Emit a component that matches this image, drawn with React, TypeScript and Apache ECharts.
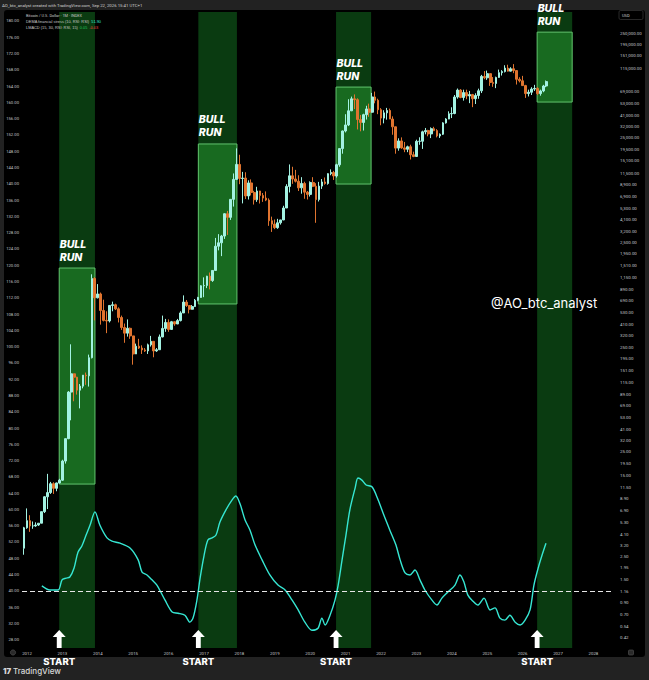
import React, { useEffect, useRef } from 'react';
import * as echarts from 'echarts';

// ---------- texts ----------
const chartTitle = 'AO_btc_analyst created with TradingView.com, Sep 22, 2026 15:41 UTC+1';
const symbolLine = 'Bitcoin / U.S. Dollar · 1M · INDEX';
const oscName = 'DEMA financial stress (10, RSI: RSI)';
const oscLast = '51.90';
const macdName = 'LMACD (15, 30, RSI: RSI, 15)';
const macdA = '0.05';
const macdB = '-0.03';
const watermark = '@AO_btc_analyst';

// ---------- monthly candles [open, high, low, close], first = Dec 2011 ----------
const firstCandleYear = 2011 + 11 / 12;
const ohlc2011 = [[3.0, 4.8, 2.6, 4.7]];
const ohlc2012 = [
  [4.7, 7.2, 4.6, 5.5], [5.5, 6.2, 4.3, 4.9], [4.9, 5.4, 4.6, 4.9], [4.9, 5.3, 4.8, 5.0],
  [5.0, 5.2, 4.9, 5.2], [5.2, 6.7, 5.2, 6.7], [6.7, 9.4, 6.5, 9.3], [9.3, 15.4, 7.1, 10.2],
  [10.2, 12.9, 9.9, 12.4], [12.4, 12.8, 9.9, 11.2], [11.2, 12.7, 10.5, 12.6], [12.6, 13.8, 12.5, 13.4],
];
const ohlc2013 = [
  [13.4, 21, 13.2, 20.4], [20.4, 33.5, 19.3, 33.4], [33.4, 95, 33, 93], [93, 266, 50, 139],
  [139, 140, 76, 129], [129, 130, 88, 97], [97, 111, 65, 106], [106, 135, 101, 135],
  [135, 143, 109, 133], [133, 212, 105, 198], [198, 1240, 195, 1130], [1130, 1165, 450, 740],
];
const ohlc2014 = [
  [740, 1000, 730, 805], [805, 830, 410, 560], [560, 710, 440, 450], [450, 550, 340, 445],
  [445, 630, 430, 625], [625, 680, 550, 635], [635, 650, 565, 580], [580, 600, 430, 480],
  [480, 500, 365, 385], [385, 420, 275, 340], [340, 460, 315, 378], [378, 385, 300, 320],
];
const ohlc2015 = [
  [320, 320, 170, 215], [215, 270, 215, 255], [255, 300, 240, 245], [245, 260, 215, 235],
  [235, 245, 225, 230], [230, 270, 215, 263], [263, 320, 253, 284], [284, 285, 200, 230],
  [230, 245, 225, 236], [236, 330, 235, 313], [313, 500, 310, 377], [377, 465, 350, 430],
];
const ohlc2016 = [
  [430, 460, 350, 369], [369, 445, 365, 437], [437, 440, 400, 416], [416, 465, 415, 448],
  [448, 550, 440, 530], [530, 780, 530, 673], [673, 705, 605, 624], [624, 625, 525, 575],
  [575, 630, 570, 610], [610, 720, 605, 700], [700, 755, 685, 745], [745, 975, 740, 963],
];
const ohlc2017 = [
  [963, 1160, 750, 970], [970, 1200, 915, 1190], [1190, 1290, 890, 1080], [1080, 1350, 1050, 1350],
  [1350, 2760, 1350, 2300], [2300, 3000, 2100, 2480], [2480, 2950, 1850, 2875], [2875, 4750, 2700, 4700],
  [4700, 5000, 2950, 4340], [4340, 6470, 4100, 6450], [6450, 11400, 5500, 10000], [10000, 19800, 10000, 13900],
];
const ohlc2018 = [
  [13900, 17200, 9000, 10200], [10200, 11800, 5900, 10300], [10300, 11700, 6500, 6950], [6950, 9800, 6430, 9250],
  [9250, 10000, 7030, 7500], [7500, 7780, 5750, 6400], [6400, 8500, 6100, 7750], [7750, 7780, 5880, 7030],
  [7030, 7410, 6100, 6630], [6630, 7680, 6200, 6350], [6350, 6590, 3600, 4030], [4030, 4410, 3150, 3740],
];
const ohlc2019 = [
  [3740, 4140, 3350, 3460], [3460, 4200, 3370, 3850], [3850, 4110, 3700, 4100], [4100, 5600, 4080, 5330],
  [5330, 9000, 5330, 8570], [8570, 13900, 7500, 10820], [10820, 13200, 9070, 10090], [10090, 12330, 9350, 9600],
  [9600, 10950, 7750, 8300], [8300, 10500, 7300, 9150], [9150, 9500, 6530, 7550], [7550, 7750, 6430, 7190],
];
const ohlc2020 = [
  [7190, 9580, 6860, 9350], [9350, 10500, 8450, 8600], [8600, 9200, 3850, 6420], [6420, 9470, 6150, 8630],
  [8630, 10080, 8110, 9450], [9450, 10430, 8900, 9140], [9140, 11450, 8900, 11350], [11350, 12470, 10950, 11650],
  [11650, 12070, 9880, 10780], [10780, 14100, 10400, 13800], [13800, 19500, 13200, 19700], [19700, 29300, 17600, 29000],
];
const ohlc2021 = [
  [29000, 41950, 28100, 33100], [33100, 58350, 32300, 45200], [45200, 61800, 44950, 58800], [58800, 64850, 47000, 57700],
  [57700, 59500, 30000, 37300], [37300, 41300, 28800, 35000], [35000, 42400, 29300, 41500], [41500, 50500, 37300, 47100],
  [47100, 52900, 39600, 43800], [43800, 67000, 43300, 61300], [61300, 69000, 53300, 57000], [57000, 59000, 42000, 46300],
];
const ohlc2022 = [
  [46300, 47900, 32900, 38500], [38500, 45800, 34300, 43200], [43200, 48200, 37200, 45500], [45500, 47400, 37700, 37700],
  [37700, 40000, 26700, 31800], [31800, 31900, 17600, 19900], [19900, 24700, 18800, 23300], [23300, 25200, 19600, 20000],
  [20000, 22800, 18200, 19400], [19400, 21000, 18200, 20500], [20500, 21450, 15500, 17200], [17200, 18400, 16300, 16550],
];
const ohlc2023 = [
  [16550, 23950, 16500, 23100], [23100, 25250, 21400, 23150], [23150, 29200, 19550, 28500], [28500, 31000, 26950, 29250],
  [29250, 29800, 25800, 27200], [27200, 31400, 24800, 30500], [30500, 31800, 28900, 29250], [29250, 30200, 25200, 26000],
  [26000, 27500, 24900, 27000], [27000, 35200, 26550, 34650], [34650, 38450, 34100, 37700], [37700, 44700, 37600, 42300],
];
const ohlc2024 = [
  [42300, 48900, 38550, 42600], [42600, 64000, 41900, 61200], [61200, 73800, 59000, 71300], [71300, 72800, 59600, 60600],
  [60600, 71950, 56550, 67500], [67500, 71950, 58400, 62700], [62700, 70000, 53500, 64600], [64600, 65600, 49000, 59000],
  [59000, 66500, 52500, 63300], [63300, 73600, 58900, 70200], [70200, 99600, 66800, 96400], [96400, 108300, 90500, 93400],
];
const ohlc2025 = [
  [93400, 109500, 89200, 102400], [102400, 102800, 78200, 84300], [84300, 95000, 76600, 82500], [82500, 95800, 74400, 94200],
  [94200, 111900, 93400, 104600], [104600, 110500, 98200, 107100], [107100, 123200, 105100, 115700], [115700, 124500, 107300, 108200],
  [108200, 117900, 107300, 114000], [114000, 126200, 103500, 109500], [109500, 110600, 80600, 90400], [90400, 94600, 84400, 87500],
];
const ohlc2026 = [
  [87500, 97500, 80000, 78700], [78700, 80000, 60000, 66000], [66000, 72000, 62000, 68000], [68000, 76000, 64000, 73000],
  [73000, 80000, 70000, 74000], [74000, 76000, 64000, 66000], [66000, 72000, 63000, 70000], [70000, 80000, 68000, 78000],
  [78000, 88000, 76000, 85926.56],
];

// ---------- oscillator (left scale) ----------
const oscYears = [
  2012.42, 2012.65, 2012.88, 2012.99, 2013.10, 2013.21, 2013.33, 2013.44, 2013.55, 2013.67, 2013.78, 2013.92,
  2014.06, 2014.26, 2014.40, 2014.63, 2014.91, 2015.14, 2015.25, 2015.39, 2015.53, 2015.67, 2015.90,
  2016.10, 2016.27, 2016.46, 2016.60, 2016.69, 2016.80, 2016.89, 2017.00, 2017.11, 2017.23, 2017.34, 2017.45,
  2017.62, 2017.79, 2017.90, 2018.02, 2018.16, 2018.30, 2018.44, 2018.64, 2018.86, 2019.09, 2019.29, 2019.49,
  2019.66, 2019.85, 2020.05, 2020.22, 2020.33, 2020.42, 2020.56, 2020.70, 2020.79, 2020.90, 2021.01, 2021.12,
  2021.27, 2021.35, 2021.46, 2021.58, 2021.75, 2021.92, 2022.08, 2022.25, 2022.42, 2022.54, 2022.68, 2022.82,
  2022.96, 2023.10, 2023.24, 2023.44, 2023.58, 2023.72, 2023.89, 2024.09, 2024.23, 2024.34, 2024.45, 2024.57,
  2024.74, 2024.91, 2025.08, 2025.22, 2025.36, 2025.50, 2025.64, 2025.79, 2025.93, 2026.07, 2026.21, 2026.32,
  2026.44, 2026.55, 2026.66,
];
const oscValues = [
  41.2, 40.2, 40.2, 42.7, 43.1, 43.4, 45.6, 49.5, 51.0, 53.7, 56.1, 59.4,
  56.1, 53.0, 52.2, 51.7, 50.5, 47.6, 44.6, 43.9, 42.7, 41.4, 37.7,
  34.8, 34.5, 34.0, 32.3, 33.3, 37.7, 43.1, 48.6, 52.5, 53.0, 53.7, 56.9,
  59.9, 62.3, 63.3, 61.3, 57.4, 54.9, 51.3, 47.6, 43.9, 41.4, 40.2, 37.7,
  35.3, 32.3, 30.3, 30.8, 33.3, 31.6, 34.0, 37.7, 41.4, 47.6, 53.7, 59.9,
  65.3, 67.7, 67.2, 66.0, 65.5, 62.3, 58.6, 54.9, 51.3, 47.6, 44.4, 43.9,
  45.1, 42.7, 40.2, 37.7, 36.5, 38.2, 39.7, 41.4, 43.9, 42.2, 39.0, 37.7,
  36.5, 38.2, 35.3, 35.8, 33.3, 32.8, 34.0, 32.3, 31.6, 32.8, 35.3, 41.4,
  45.6, 48.8, 51.7,
];
const oscThreshold = 40;

// ---------- bull runs ----------
const bullStart = [2012.91, 2016.84, 2020.73, 2026.41];
const bullEnd = [2013.92, 2017.93, 2021.72, 2027.40];
const bullLow = [12.3, 646, 9030, 54800];
const bullHigh = [1424, 21800, 76200, 255000];
const startLevel = 28.15;

// ---------- axis ticks ----------
const yearTicks = [2012, 2013, 2014, 2015, 2016, 2017, 2018, 2019, 2020, 2021, 2022, 2023, 2024, 2025, 2026, 2027, 2028];
const leftTicks = [28, 32, 36, 40, 44, 48, 52, 56, 60, 64, 68, 72, 76, 80, 84, 88, 92, 96, 100, 104, 108, 112, 116, 120,
  124, 128, 132, 136, 140, 144, 148, 152, 156, 160, 164, 168, 172, 176, 180];
const priceTicks = [0.42, 0.54, 0.7, 0.9, 1.16, 1.5, 1.95, 2.5, 3.2, 4.1, 5.3, 6.9, 8.9, 11.5, 15, 19.5, 25, 32, 41, 53,
  69, 89, 115, 151, 195, 250, 320, 410, 530, 690, 890, 1150, 1510, 1950, 2500, 3200, 4100, 5300, 6900, 8900, 11500,
  15100, 19500, 25000, 32000, 41000, 53000, 69000, 115000, 151000, 195000, 250000];

// axis ranges
const X_MIN = 2011.859;
const X_MAX = 2028.525;
const LEFT_MIN = 25.95;
const LEFT_MAX = 182.21;
const LOG_MIN = -0.476;
const LOG_MAX = 5.599;

const fmt2 = (v: number) => v.toLocaleString('en-US', { minimumFractionDigits: 2, maximumFractionDigits: 2 });

const UP = '#a3f2e2';
const DOWN = '#e0742f';
const CYAN = '#36e7d3';
const BAND = '#0a3b11';
const BOX = '#186a20';
const BOX_BORDER = '#62c46e';
const AXIS_TXT = '#c5c7cc';
const FONT = 'Roboto, "Noto Sans", sans-serif';
const BOLD_FONT = 'Inter, "Open Sans", sans-serif';

export default function App() {
  const ref = useRef<HTMLDivElement>(null);

  useEffect(() => {
    if (!ref.current) return;
    const chart = echarts.init(ref.current, undefined, { renderer: 'svg' });

    const candles = [
      ...ohlc2011, ...ohlc2012, ...ohlc2013, ...ohlc2014, ...ohlc2015, ...ohlc2016, ...ohlc2017, ...ohlc2018,
      ...ohlc2019, ...ohlc2020, ...ohlc2021, ...ohlc2022, ...ohlc2023, ...ohlc2024, ...ohlc2025, ...ohlc2026,
    ];
    const candleData = candles.map((r, i) => [
      firstCandleYear + i / 12,
      Math.log10(r[0]),
      Math.log10(r[3]),
      Math.log10(r[2]),
      Math.log10(r[1]),
    ]);
    const lastClose = candles[candles.length - 1][3];
    const logTicks = priceTicks.map((p) => Math.log10(p));

    const areaData: any[] = [];
    bullStart.forEach((s, i) => {
      areaData.push([
        { xAxis: s, itemStyle: { color: BAND, borderWidth: 0 }, label: { show: false } },
        { xAxis: bullEnd[i] },
      ]);
    });
    bullStart.forEach((s, i) => {
      areaData.push([
        {
          xAxis: s,
          yAxis: Math.log10(bullLow[i]),
          itemStyle: { color: BOX, borderColor: BOX_BORDER, borderWidth: 1 },
          label: {
            show: true,
            position: [1, -30],
            formatter: 'BULL\nRUN',
            color: '#ffffff',
            fontSize: 10.5,
            lineHeight: 13,
            fontWeight: 800,
            fontStyle: 'italic',
            fontFamily: BOLD_FONT,
            align: 'left',
          },
        },
        { xAxis: bullEnd[i], yAxis: Math.log10(bullHigh[i]) },
      ]);
    });

    const option: any = {
      animation: false,
      backgroundColor: 'transparent',
      textStyle: { fontFamily: FONT },
      grid: { left: 22, right: 37, top: 12, bottom: 32, containLabel: false, outerBoundsMode: 'none' },
      xAxis: {
        type: 'value',
        min: X_MIN,
        max: X_MAX,
        axisLine: { show: false },
        axisTick: { show: false },
        splitLine: { show: false },
        axisLabel: {
          customValues: yearTicks,
          formatter: (v: number) => String(Math.round(v)),
          color: AXIS_TXT,
          fontSize: 4.3,
          lineHeight: 5,
          margin: 3,
        },
      },
      yAxis: [
        {
          type: 'value',
          position: 'left',
          min: LEFT_MIN,
          max: LEFT_MAX,
          axisLine: { show: false },
          axisTick: { show: false },
          splitLine: { show: false },
          axisLabel: {
            customValues: leftTicks,
            formatter: (v: number) => v.toFixed(2),
            color: AXIS_TXT,
            fontSize: 4.2,
            margin: 3,
          },
        },
        {
          type: 'value',
          position: 'right',
          min: LOG_MIN,
          max: LOG_MAX,
          axisLine: { show: false },
          axisTick: { show: false },
          splitLine: { show: false },
          axisLabel: {
            customValues: logTicks,
            formatter: (v: number) => {
              let best = 0;
              logTicks.forEach((t, i) => {
                if (Math.abs(t - v) < Math.abs(logTicks[best] - v)) best = i;
              });
              return fmt2(priceTicks[best]);
            },
            color: AXIS_TXT,
            fontSize: 4.4,
            margin: 8,
          },
        },
      ],
      series: [
        {
          type: 'candlestick',
          name: 'BTC',
          xAxisIndex: 0,
          yAxisIndex: 1,
          clip: false,
          barWidth: 2.2,
          data: candleData,
          encode: { x: 0, y: [1, 2, 3, 4] },
          itemStyle: { color: UP, color0: DOWN, borderColor: UP, borderColor0: DOWN, borderWidth: 1 },
          markArea: { silent: true, z: 1, data: areaData },
          markLine: {
            silent: true,
            symbol: ['none', 'none'],
            lineStyle: { opacity: 0 },
            data: [{ yAxis: Math.log10(lastClose) }],
            label: {
              show: true,
              position: 'end',
              distance: 6,
              formatter: fmt2(lastClose),
              backgroundColor: '#3fd8c8',
              color: '#06201d',
              fontSize: 4.4,
              padding: [1.5, 2],
              borderRadius: 1,
            },
          },
        },
        {
          type: 'line',
          name: 'DEMA financial stress',
          xAxisIndex: 0,
          yAxisIndex: 0,
          clip: false,
          showSymbol: false,
          smooth: 0.3,
          data: oscYears.map((t, i) => [t, oscValues[i]]),
          lineStyle: { color: CYAN, width: 1.4 },
          itemStyle: { color: CYAN },
          markLine: {
            silent: true,
            symbol: ['none', 'none'],
            label: { show: false },
            lineStyle: { color: '#e6e6e6', type: [5, 3], width: 1 },
            data: [{ yAxis: oscThreshold }],
          },
          markPoint: {
            silent: true,
            symbol: 'path://M7,0 L14,7 L9.6,7 L9.6,18 L4.4,18 L4.4,7 L0,7 Z',
            symbolSize: [13, 18],
            symbolKeepAspect: false,
            itemStyle: { color: '#ffffff' },
            label: {
              show: true,
              position: 'bottom',
              distance: 8,
              formatter: 'START',
              color: '#ffffff',
              fontSize: 9.5,
              lineHeight: 10,
              fontWeight: 800,
              fontFamily: BOLD_FONT,
            },
            data: bullStart.map((s) => ({ coord: [s, startLevel] })),
          },
        },
      ],
      graphic: [
        {
          type: 'text', x: 2, y: 5, z: 100,
          style: { text: chartTitle, fill: '#d0d0d0', fontSize: 4.3, fontFamily: FONT, textVerticalAlign: 'middle' },
        },
        {
          type: 'text', x: 26, y: 15, z: 100,
          style: { text: symbolLine, fill: '#c8c8c8', fontSize: 3.9, fontFamily: FONT, textVerticalAlign: 'middle' },
        },
        {
          type: 'text', x: 26, y: 21, z: 100,
          style: {
            text: '{a|' + oscName + '}  {b|' + oscLast + '}',
            fontSize: 3.9, fontFamily: FONT, textVerticalAlign: 'middle',
            rich: { a: { fill: '#c8c8c8', fontSize: 3.9 }, b: { fill: CYAN, fontSize: 3.9 } },
          },
        },
        {
          type: 'text', x: 26, y: 27.3, z: 100,
          style: {
            text: '{a|' + macdName + '}  {g|' + macdA + '}  {r|' + macdB + '}',
            fontSize: 3.9, fontFamily: FONT, textVerticalAlign: 'middle',
            rich: {
              a: { fill: '#c8c8c8', fontSize: 3.9 },
              g: { fill: '#22c55e', fontSize: 3.9 },
              r: { fill: '#ef4444', fontSize: 3.9 },
            },
          },
        },
        {
          type: 'rect', z: 100, shape: { x: 619, y: 10.5, width: 24, height: 9, r: 1.5 },
          style: { fill: '#000', stroke: '#3a3a3a', lineWidth: 0.7 },
        },
        {
          type: 'text', x: 622, y: 15, z: 101,
          style: { text: 'USD', fill: '#d0d0d0', fontSize: 4, fontFamily: FONT, textVerticalAlign: 'middle' },
        },
        {
          type: 'text', x: 491, y: 303, z: 100,
          style: { text: watermark, fill: '#ffffff', fontSize: 13, fontFamily: 'Inter, "Open Sans", sans-serif', textVerticalAlign: 'middle' },
        },
        {
          type: 'circle', z: 100, shape: { cx: 13, cy: 652.5, r: 2.6 },
          style: { fill: '#2a2a2a', stroke: '#555', lineWidth: 0.6 },
        },
        {
          type: 'rect', z: 100, shape: { x: 628.5, y: 650, width: 5, height: 5, r: 1 },
          style: { fill: '#2a2a2a', stroke: '#555', lineWidth: 0.6 },
        },
        {
          type: 'text', x: 3, y: 671, z: 100,
          style: { text: '17', fill: '#d8d8d8', fontSize: 7.8, fontWeight: 900, fontFamily: BOLD_FONT, textVerticalAlign: 'middle' },
        },
        {
          type: 'text', x: 13, y: 671, z: 100,
          style: { text: 'TradingView', fill: '#d8d8d8', fontSize: 8, fontWeight: 500, fontFamily: BOLD_FONT, textVerticalAlign: 'middle' },
        },
      ],
    };

    chart.setOption(option);
    return () => chart.dispose();
  }, []);

  return (
    <div style={{ position: 'fixed', left: 0, top: 0, width: 649, height: 680, background: '#222222', overflow: 'hidden' }}>
      <div style={{ position: 'absolute', left: 4, top: 10, width: 641, height: 647, background: '#000000', borderRadius: 3 }} />
      <div ref={ref} style={{ position: 'absolute', left: 0, top: 0, width: 649, height: 680 }} />
    </div>
  );
}
